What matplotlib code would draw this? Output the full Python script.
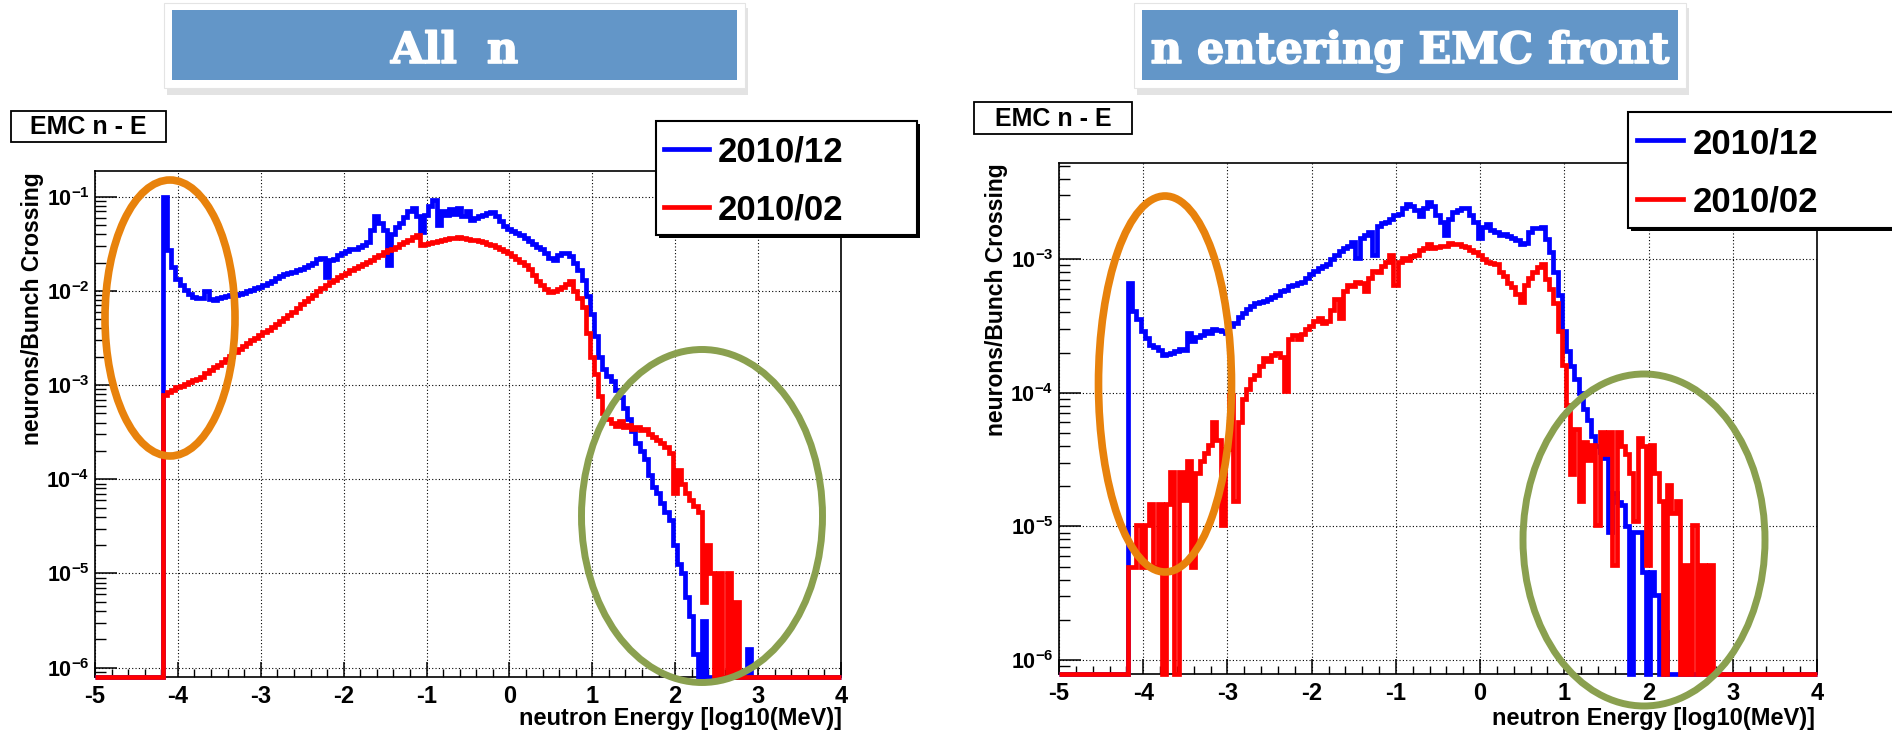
import numpy as np
import matplotlib
matplotlib.use("Agg")
import matplotlib.pyplot as plt
import matplotlib.patheffects as pe
from matplotlib.patches import Rectangle, Ellipse
from matplotlib.lines import Line2D
from matplotlib.ticker import FixedLocator, MultipleLocator, LogLocator, NullFormatter, FixedFormatter

# Histogram data: log10(neutrons / bunch crossing), bins of 0.05 in log10(E/MeV)
# starting at -4.18.  None = empty bin (ROOT draws it on the frame bottom).
bin_start = -4.18
bin_w = 0.05

# left pad "All n"
all_2010_12 = [
    -1.00, -1.57, -1.75, -1.87, -1.94, -1.99, -2.03, -2.06, -2.08, -2.07,
    -2.00, -2.09, -2.10, -2.07, -2.06, -2.05, -2.04, -2.04, -2.03, -2.02,
    -2.00, -1.99, -1.97, -1.96, -1.94, -1.92, -1.89, -1.86, -1.84, -1.82,
    -1.81, -1.80, -1.78, -1.77, -1.75, -1.73, -1.70, -1.66, -1.65, -1.85,
    -1.67, -1.66, -1.62, -1.60, -1.58, -1.56, -1.55, -1.53, -1.51, -1.48,
    -1.35, -1.21, -1.28, -1.35, -1.73, -1.40, -1.32, -1.28, -1.22, -1.15,
    -1.12, -1.20, -1.37, -1.19, -1.10, -1.03, -1.30, -1.15, -1.19, -1.13,
    -1.18, -1.12, -1.20, -1.15, -1.25, -1.23, -1.21, -1.19, -1.17, -1.16,
    -1.20, -1.26, -1.31, -1.34, -1.36, -1.38, -1.41, -1.44, -1.47, -1.50,
    -1.53, -1.55, -1.60, -1.65, -1.67, -1.62, -1.60, -1.60, -1.63, -1.70,
    -1.78, -1.88, -2.05, -2.25, -2.48, -2.70, -2.83, -2.90, -2.96, -3.05,
    -3.13, -3.24, -3.36, -3.49, -3.62, -3.70, -3.78, -3.95, -4.08, -4.15,
    -4.25, -4.35, -4.43, -4.70, -4.90, -5.00, -5.25, -5.45, -5.85, None,
    -5.50, None, None, None, None, None, None, None, None, None,
    None, -5.80, None, None,
]
all_2010_02 = [
    -3.10, -3.07, -3.05, -3.02, -3.01, -2.99, -2.97, -2.95, -2.93, -2.91,
    -2.87, -2.84, -2.81, -2.79, -2.76, -2.72, -2.69, -2.65, -2.62, -2.58,
    -2.55, -2.52, -2.50, -2.47, -2.44, -2.41, -2.38, -2.35, -2.32, -2.29,
    -2.26, -2.22, -2.18, -2.14, -2.11, -2.08, -2.04, -2.00, -1.97, -1.94,
    -1.91, -1.88, -1.85, -1.83, -1.81, -1.78, -1.76, -1.74, -1.71, -1.69,
    -1.67, -1.645, -1.62, -1.59, -1.57, -1.55, -1.53, -1.50, -1.48, -1.46,
    -1.43, -1.41, -1.51, -1.50, -1.49, -1.48, -1.47, -1.46, -1.45, -1.44,
    -1.435, -1.43, -1.44, -1.45, -1.455, -1.46, -1.465, -1.48, -1.50, -1.51,
    -1.53, -1.56, -1.58, -1.60, -1.63, -1.66, -1.69, -1.72, -1.77, -1.83,
    -1.89, -1.94, -1.98, -2.01, -2.00, -1.98, -1.96, -1.93, -1.90, -2.00,
    -2.08, -2.17, -2.45, -2.70, -2.88, -3.12, -3.30, -3.36, -3.40, -3.43,
    -3.38, -3.45, -3.42, -3.47, -3.44, -3.48, -3.47, -3.52, -3.55, -3.58,
    -3.62, -3.66, -3.72, -4.15, -3.90, -4.05, -4.15, -4.22, -4.28, -4.35,
    -5.30, -4.70, -5.00, None, -5.00, None, -5.00, None, -5.30, None,
    None, None, None, None,
]

# right pad "n entering EMC front"
emc_2010_12 = [
    -3.18, -3.39, -3.45, -3.54, -3.59, -3.64, -3.66, -3.68, -3.72, -3.71,
    -3.70, -3.69, -3.67, -3.68, -3.55, -3.61, -3.58, -3.57, -3.54, -3.55,
    -3.52, -3.53, -3.54, -3.55, -3.50, -3.48, -3.43, -3.40, -3.37, -3.35,
    -3.33, -3.32, -3.31, -3.30, -3.28, -3.27, -3.24, -3.23, -3.20, -3.19,
    -3.18, -3.17, -3.14, -3.11, -3.09, -3.07, -3.05, -3.04, -3.00, -2.97,
    -2.94, -2.92, -2.90, -2.87, -2.99, -2.84, -2.82, -2.80, -2.97, -2.75,
    -2.73, -2.72, -2.70, -2.67, -2.66, -2.62, -2.59, -2.60, -2.63, -2.68,
    -2.62, -2.57, -2.60, -2.67, -2.72, -2.82, -2.70, -2.65, -2.63, -2.62,
    -2.62, -2.67, -2.72, -2.84, -2.76, -2.74, -2.78, -2.80, -2.82, -2.81,
    -2.83, -2.84, -2.86, -2.89, -2.88, -2.80, -2.77, -2.77, -2.76, -2.85,
    -2.95, -3.10, -3.27, -3.54, -3.69, -3.80, -3.90, -4.00, -4.12, -4.20,
    -4.32, -4.40, -4.44, -4.49, -5.04, -4.75, -4.82, -4.84, -5.00, None,
    -5.04, -5.04, -5.34, None, -5.34, -5.51, None, -5.79, None, None,
    None, None, None, None, None, None, None, None, None, None,
    None, None, None, None,
]
emc_2010_02 = [
    -5.30, -5.30, -4.99, -5.30, -4.99, -4.83, -5.30, -4.83, None, -4.83,
    -4.59, None, -4.59, -4.80, -4.51, -5.30, -4.60, -4.51, -4.45, -4.39,
    -4.22, -4.35, -4.99, -4.42, -4.02, -4.81, -4.22, -4.05, -3.97, -3.90,
    -3.87, -3.80, -3.74, -3.76, -3.72, -3.70, -3.73, -3.99, -3.60, -3.57,
    -3.60, -3.56, -3.52, -3.50, -3.46, -3.44, -3.48, -3.46, -3.38, -3.30,
    -3.44, -3.24, -3.19, -3.20, -3.17, -3.18, -3.24, -3.14, -3.09, -3.10,
    -3.05, -3.02, -2.97, -3.19, -3.02, -2.99, -3.01, -2.98, -2.97, -2.93,
    -2.92, -2.89, -2.92, -2.91, -2.905, -2.90, -2.88, -2.885, -2.89, -2.90,
    -2.91, -2.93, -2.95, -2.97, -3.00, -3.02, -3.03, -3.04, -3.10, -3.13,
    -3.18, -3.21, -3.26, -3.32, -3.19, -3.14, -3.10, -3.06, -3.04, -3.15,
    -3.22, -3.33, -3.54, -3.79, -4.09, -4.61, -4.27, -4.81, -4.37, -4.50,
    -4.39, -4.99, -4.29, -4.46, -4.29, -5.29, -4.29, -4.40, -4.46, -4.60,
    -4.96, -4.34, -4.40, -5.29, -4.39, -4.60, -4.81, None, -4.69, -4.90,
    -4.81, None, -5.29, None, -4.99, None, -5.29, None, -5.29, None,
    None, None, None, None,
]

series_labels = ["2010/12", "2010/02"]
x_ticks = [-5, -4, -3, -2, -1, 0, 1, 2, 3, 4]

plt.rcParams["font.family"] = ["Liberation Sans", "DejaVu Sans"]
plt.rcParams["font.weight"] = "bold"
plt.rcParams["mathtext.fontset"] = "custom"
plt.rcParams["mathtext.rm"] = "Liberation Sans:bold"
plt.rcParams["mathtext.bf"] = "Liberation Sans:bold"
plt.rcParams["mathtext.default"] = "bf"

W, H = 1892, 734
fig = plt.figure(figsize=(W / 100, H / 100), dpi=100)


def fx(px):
    return px / W


def fy(py):
    return 1 - py / H


def draw_pad(ax, blue, red, ylo, yhi, decades):
    edges = np.concatenate([[-5.0], bin_start + bin_w * np.arange(len(blue) + 1), [4.0]])
    floor = 10 ** ylo
    for vals, col in ((blue, "blue"), (red, "red")):
        v = [floor] + [floor if a is None else 10 ** a for a in vals] + [floor]
        ax.stairs(v, edges, color=col, lw=3.4, baseline=None, clip_on=False, zorder=3)
    ax.set_yscale("log")
    ax.set_xlim(-5, 4)
    ax.set_ylim(10 ** ylo, 10 ** yhi)
    ax.xaxis.set_major_locator(FixedLocator(x_ticks))
    ax.xaxis.set_major_formatter(FixedFormatter([str(t) for t in x_ticks]))
    ax.xaxis.set_minor_locator(MultipleLocator(0.2))
    ax.yaxis.set_major_locator(FixedLocator([10.0 ** d for d in decades]))
    ax.yaxis.set_major_formatter(FixedFormatter([r"$10^{%d}$" % d for d in decades]))
    ax.yaxis.set_minor_locator(LogLocator(base=10, subs=np.arange(2, 10)))
    ax.yaxis.set_minor_formatter(NullFormatter())
    ax.tick_params(axis="x", which="major", direction="in", length=11, width=1.1,
                   labelsize=17, pad=6, top=False)
    ax.tick_params(axis="x", which="minor", direction="in", length=6, width=1.0, top=False)
    ax.tick_params(axis="y", which="major", direction="in", length=16, width=1.1,
                   labelsize=15.5, pad=4, right=False)
    ax.tick_params(axis="y", which="minor", direction="in", length=8, width=1.0, right=False)
    ax.grid(True, which="major", linestyle=(0, (1, 2)), color="black", lw=0.8)
    ax.set_axisbelow(True)
    for sp in ax.spines.values():
        sp.set_linewidth(1.2)


ax1 = fig.add_axes([fx(95), fy(677), (841 - 95) / W, (677 - 171) / H])
draw_pad(ax1, all_2010_12, all_2010_02, -6.099, -0.727, [-6, -5, -4, -3, -2, -1])

ax2 = fig.add_axes([fx(1059), fy(674), (1817 - 1059) / W, (674 - 163) / H])
draw_pad(ax2, emc_2010_12, emc_2010_02, -6.104, -2.281, [-6, -5, -4, -3])

# axis titles (ROOT style: aligned to the end of the axis)
for xr, yc in ((842, 718), (1815, 719)):
    fig.text(fx(xr), fy(yc), "neutron Energy [log10(MeV)]", fontsize=17,
             ha="right", va="center")
for xc, yt in ((32, 172), (996, 163)):
    fig.text(fx(xc), fy(yt), "neurons/Bunch Crossing", fontsize=16.5,
             rotation=90, ha="center", va="top")


def rect(x0, y0, x1, y1, **kw):
    r = Rectangle((fx(x0), fy(y1)), (x1 - x0) / W, (y1 - y0) / H,
                  transform=fig.transFigure, **kw)
    fig.add_artist(r)


# histogram title boxes
for (x0, y0, x1, y1) in ((11, 111, 166, 142), (974, 102, 1132, 134)):
    rect(x0, y0, x1, y1, facecolor="white", edgecolor="black", lw=1.3, zorder=5)
    fig.text(fx((x0 + x1) / 2), fy((y0 + y1) / 2 + 1), "EMC n - E", fontsize=18,
             ha="center", va="center", zorder=6)

# legends (with the small ROOT shadow)
legends = [
    (656, 121, 917, 235, 664, 709, 718, (149, 207), (162, 220)),
    (1628, 112, 1895, 228, 1637, 1683, 1693, (140, 199), (153, 212)),
]
for x0, y0, x1, y1, lx0, lx1, tx, ly, ty in legends:
    rect(x0 + 3, y0 + 3, x1 + 3, y1 + 3, facecolor="black", edgecolor="none", zorder=5)
    rect(x0, y0, x1, y1, facecolor="white", edgecolor="black", lw=1.5, zorder=5)
    for col, lab, yl, yt in zip(("blue", "red"), series_labels, ly, ty):
        fig.add_artist(Line2D([fx(lx0), fx(lx1)], [fy(yl), fy(yl)], color=col, lw=3.4,
                              transform=fig.transFigure, zorder=6))
        fig.text(fx(tx), fy(yt), lab, fontsize=25, ha="left", va="baseline", zorder=6)

# slide banners
banners = [(172, 737, "All  n"), (1142, 1678, "n entering EMC front")]
for x0, x1, txt in banners:
    rect(x0 - 5, 8, x1 + 11, 95, facecolor="#c8c8c8", edgecolor="none", alpha=0.5, zorder=4)
    rect(x0 - 8, 3, x1 + 8, 88, facecolor="white", edgecolor="#e4e4e4", lw=0.8, zorder=5)
    rect(x0, 10, x1, 80, facecolor="#6396c8", edgecolor="none", zorder=6)
    fig.text(fx((x0 + x1) / 2), fy(63), txt, fontsize=31, color="white",
             family="DejaVu Serif", weight="bold", ha="center", va="baseline", zorder=7,
             path_effects=[pe.withStroke(linewidth=1.2, foreground="white")])

# highlight ellipses
ellipses = [
    (170, 318, 130, 276, "#e8820c", 5.5),
    (702, 516, 241, 333, "#8aa04f", 5.0),
    (1165, 384, 133, 376, "#e8820c", 5.5),
    (1644, 540, 242, 332, "#8aa04f", 5.0),
]
for cx, cy, w, h, col, lw in ellipses:
    fig.add_artist(Ellipse((fx(cx), fy(cy)), w / W, h / H, transform=fig.transFigure,
                           facecolor="none", edgecolor=col, lw=lw, zorder=10))

fig.savefig("out.png", dpi=100)
